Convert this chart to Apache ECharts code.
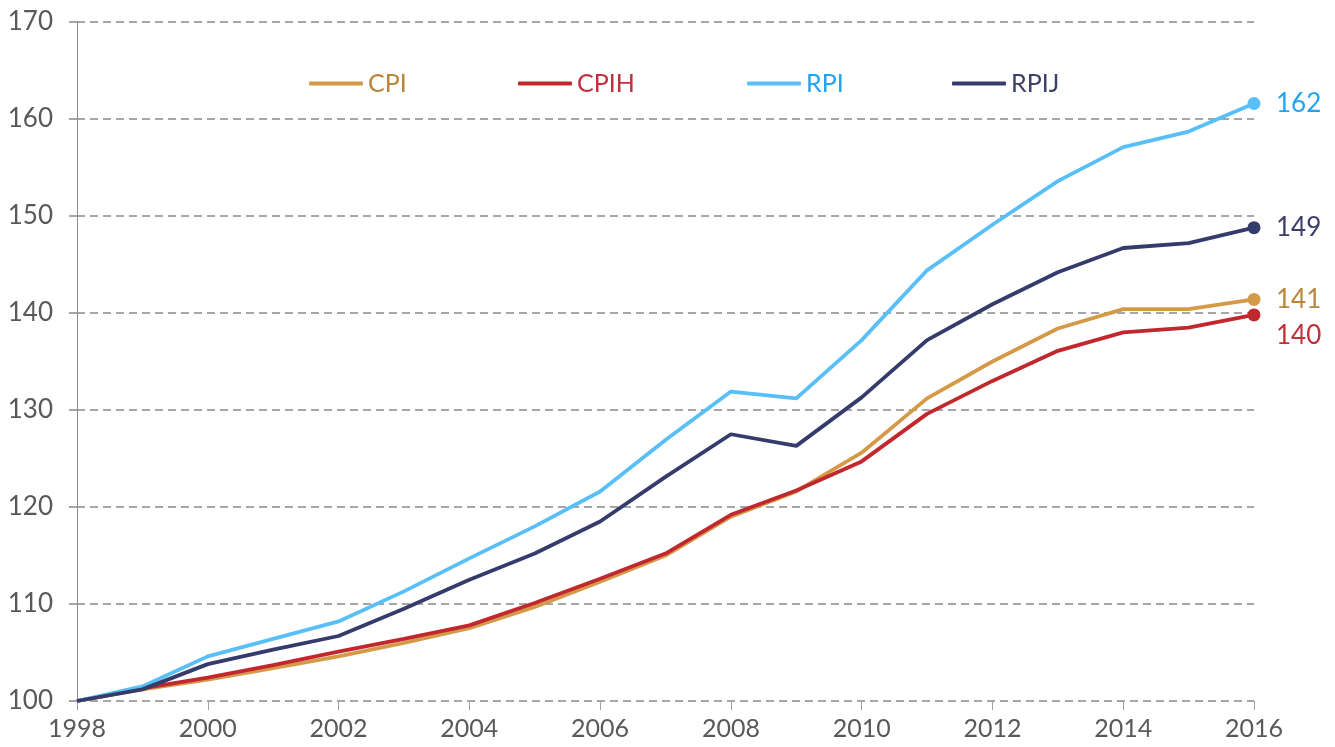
<!DOCTYPE html>
<html>
<head>
<meta charset="utf-8">
<script src="https://cdn.jsdelivr.net/npm/echarts@6/dist/echarts.min.js"></script>
<style>
  html, body { margin: 0; padding: 0; background: #fff; }
  #chart { width: 1335px; height: 747px; }
</style>
</head>
<body>
<div id="chart"></div>
<script>
// years on the x axis
const years = ['1998','1999','2000','2001','2002','2003','2004','2005','2006','2007',
               '2008','2009','2010','2011','2012','2013','2014','2015','2016'];

// index values (1998 = 100)
const cpi  = [100, 101.2, 102.2, 103.4, 104.6, 106.0, 107.5, 109.7, 112.3, 115.0,
              119.0, 121.6, 125.6, 131.2, 135.0, 138.4, 140.4, 140.4, 141.4];
const cpih = [100, 101.3, 102.4, 103.7, 105.1, 106.4, 107.8, 110.1, 112.6, 115.2,
              119.2, 121.7, 124.7, 129.6, 133.0, 136.1, 138.0, 138.5, 139.8];
const rpi  = [100, 101.5, 104.6, 106.4, 108.2, 111.3, 114.7, 118.0, 121.6, 126.9,
              131.9, 131.2, 137.2, 144.4, 149.1, 153.6, 157.1, 158.7, 161.6];
const rpij = [100, 101.2, 103.8, 105.3, 106.7, 109.5, 112.5, 115.2, 118.5, 123.1,
              127.5, 126.3, 131.3, 137.2, 140.9, 144.2, 146.7, 147.2, 148.8];

const font = 'Lato, "Open Sans", sans-serif';

let myChart = echarts.init(document.getElementById('chart'));

function makeSeries(name, data, lineColor, textColor, labelOffsetY) {
    const last = data.length - 1;
    return {
        name: name,
        type: 'line',
        data: data,
        symbol: 'circle',
        symbolSize: (v, p) => (p.dataIndex === last ? 13 : 0),
        showAllSymbol: true,
        lineStyle: { color: lineColor, width: 3.8 },
        itemStyle: { color: lineColor },
        emphasis: { disabled: true },
        endLabel: {
            show: true,
            distance: 22,
            offset: [0, labelOffsetY],
            color: textColor,
            fontFamily: font,
            fontSize: 26,
            formatter: p => String(Math.round(p.value))
        },
        animation: false
    };
}

function makeLegend(name, left, textColor) {
    return {
        left: left,
        top: 71,
        padding: 0,
        icon: 'roundRect',
        itemWidth: 54,
        itemHeight: 4,
        itemGap: 0,
        selectedMode: false,
        data: [{ name: name, textStyle: { color: textColor } }],
        textStyle: { fontFamily: font, fontSize: 25 }
    };
}

myChart.setOption({
    backgroundColor: '#fff',
    grid: { left: 77, right: 81, top: 22, bottom: 46 },
    legend: [
        makeLegend('CPI', 309, '#b8853b'),
        makeLegend('CPIH', 518, '#c0303b'),
        makeLegend('RPI', 747, '#1fa3f2'),
        makeLegend('RPIJ', 952, '#3a3f6a')
    ],
    xAxis: {
        type: 'category',
        data: years,
        boundaryGap: false,
        axisLine: { show: false },
        axisTick: { show: true, interval: 1, length: 9, lineStyle: { color: '#a0a0a0', width: 1 } },
        axisLabel: { interval: 1, color: '#595959', fontFamily: font, fontSize: 25, margin: 15 },
        splitLine: { show: false }
    },
    yAxis: {
        type: 'value',
        min: 100,
        max: 170,
        interval: 10,
        axisLine: { show: true, lineStyle: { color: '#8c8c8c', width: 1 } },
        axisTick: { show: true, length: 8, lineStyle: { color: '#a6a6a6', width: 2 } },
        axisLabel: { color: '#595959', fontFamily: font, fontSize: 26, margin: 24 },
        splitLine: { show: true, lineStyle: { color: '#a6a6a6', width: 2, type: [8, 5] } }
    },
    series: [
        makeSeries('CPI', cpi, '#d59a48', '#b8853b', 0),
        makeSeries('CPIH', cpih, '#c1272d', '#c0303b', 21),
        makeSeries('RPI', rpi, '#58bff8', '#1fa3f2', 0),
        makeSeries('RPIJ', rpij, '#353b6b', '#3a3f6a', 0)
    ],
    animation: false
});
</script>
</body>
</html>
